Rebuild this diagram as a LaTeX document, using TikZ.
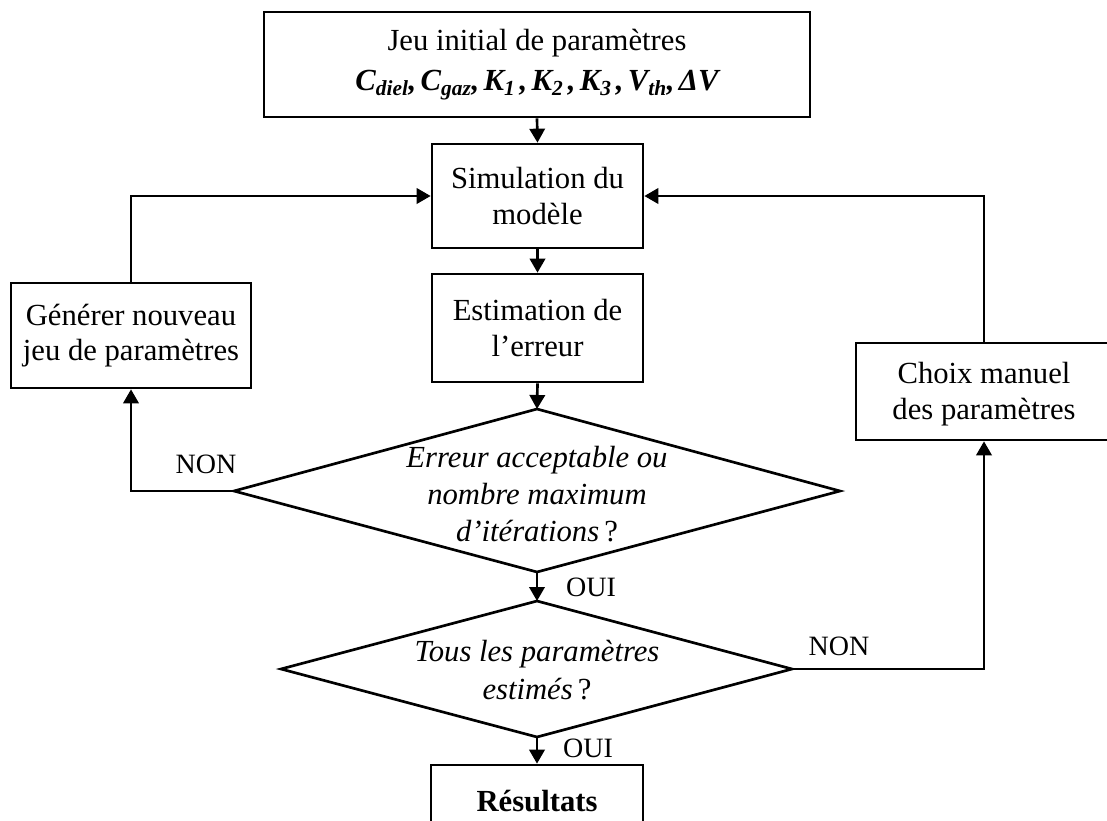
\documentclass[tikz,border=0pt]{standalone}
\usepackage{fontspec}
\setmainfont{Liberation Serif}
\usetikzlibrary{arrows.meta}
\newcommand\mysize{\fontsize{23}{26.5}\selectfont}
\newcommand\dsize{\fontsize{23}{28}\selectfont}
\newcommand\lblsize{\fontsize{21}{24}\selectfont}
\newcommand\sbs[1]{\textsubscript{#1}}
\tikzset{
  box/.style={draw, line width=2pt, rectangle, inner sep=0pt, align=center, font=\mysize},
  dtext/.style={inner sep=0pt, align=center, font=\dsize},
  lbl/.style={inner sep=0pt, font=\lblsize},
  conn/.style={line width=2pt, -{Triangle[length=10.5pt,width=11.5pt]}},
  shapeline/.style={line width=2pt, line join=miter},
}
\begin{document}
\begin{tikzpicture}[x=0.75pt, y=-0.75pt]
\useasboundingbox (0,0) rectangle (1107,821);
\clip (0,0) rectangle (1107,821);
\fill[white] (0,0) rectangle (1107,821);

% boxes
\node[box, minimum width=409.5pt, minimum height=78.75pt] (top) at (537,64.5)
  {Jeu initial de paramètres\\[3pt]{\bfseries\itshape\spaceskip=0.14em C\sbs{diel}, C\sbs{gaz}, K\sbs{1} , K\sbs{2} , K\sbs{3} , V\sbs{th}, ΔV}};
\node[box, minimum width=158.25pt, minimum height=78pt] (sim) at (537.5,196)
  {Simulation du\\modèle};
\node[box, minimum width=158.25pt, minimum height=81pt] (est) at (537.5,328)
  {Estimation de\\l’erreur};
\node[box, minimum width=180pt, minimum height=78.75pt] (gen) at (131,335.5)
  {Générer nouveau\\jeu de paramètres};
\node[box, minimum width=192pt, minimum height=72.75pt] (choix) at (984,391.5)
  {\rule{0pt}{20pt}Choix manuel\\des paramètres};
\node[box, minimum width=159pt, minimum height=54pt] (res) at (537,801)
  {\textbf{Résultats}};

% decision 1
\coordinate (d1n) at (537,409);
\coordinate (d1e) at (840,491);
\coordinate (d1s) at (537,572);
\coordinate (d1w) at (234,491);
\draw[shapeline] (d1n) -- (d1e) -- (d1s) -- (d1w) -- cycle;
\node[dtext] (d1) at (537,494)
  {\textit{Erreur acceptable ou}\\\textit{nombre maximum}\\\textit{d’itérations}\,?};

% decision 2
\coordinate (d2n) at (537,601);
\coordinate (d2e) at (792,669);
\coordinate (d2s) at (537,737);
\coordinate (d2w) at (281,669);
\draw[shapeline] (d2n) -- (d2e) -- (d2s) -- (d2w) -- cycle;
\node[dtext] (d2) at (537,670)
  {\textit{Tous les paramètres}\\\textit{estimés}\,?};

% connectors
\draw[conn] (top.south) -- (sim.north);
\draw[conn] (sim.south) -- (est.north);
\draw[conn] (est.south) -- (d1n);
\draw[conn] (d1s) -- (d2n);
\draw[conn] (d2s) -- (res.north);
\draw[conn] (d1w) -| (gen.south);
\draw[conn] (gen.north) |- (sim.west);
\draw[conn] (d2e) -| (choix.south);
\draw[conn] (choix.north) |- (sim.east);

% labels
\node[lbl] (non1) at (206,464) {NON};
\node[lbl] (oui1) at (591,587) {OUI};
\node[lbl] (oui2) at (588,748) {OUI};
\node[lbl] (non2) at (839,646) {NON};
\end{tikzpicture}
\end{document}
